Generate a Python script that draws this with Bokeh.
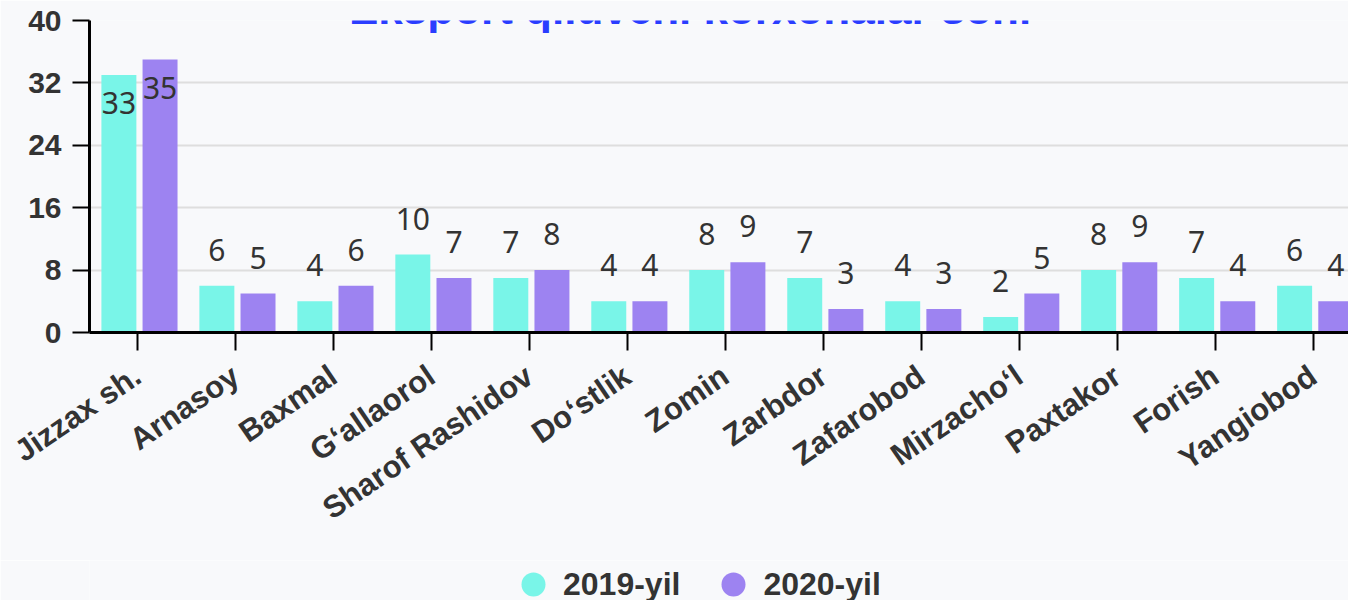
import numpy as np
from bokeh.plotting import figure
from bokeh.layouts import column
from bokeh.models import (ColumnDataSource, Range1d, FixedTicker, Legend, LegendItem, Label)
from bokeh.core.properties import value
from bokeh.transform import dodge
from bokeh.embed import file_html
from bokeh.resources import INLINE

categories = ["Jizzax sh.", "Arnasoy", "Baxmal", "G\u2018allaorol", "Sharof Rashidov",
              "Do\u2018stlik", "Zomin", "Zarbdor", "Zafarobod", "Mirzacho\u2018l",
              "Paxtakor", "Forish", "Yangiobod"]
y2019 = [33, 6, 4, 10, 7, 4, 8, 7, 4, 2, 8, 7, 6]
y2020 = [35, 5, 6, 7, 8, 4, 9, 3, 3, 5, 9, 4, 4]
series_names = ["2019-yil", "2020-yil"]
y_ticks = [0, 8, 16, 24, 32, 40]
title_text = "Eksport qiluvchi korxonalar soni"

C1 = "#79F5E8"
C2 = "#9D83F1"
BG = "#F8F9FB"
TXT = "#333333"

idx = np.arange(len(categories))

p = figure(width=1348, height=560, output_backend="svg", toolbar_location=None,
           x_range=Range1d(-0.49, 12.36), y_range=Range1d(0, 40),
           min_border_left=89, min_border_right=0, min_border_top=20, min_border_bottom=228,
           background_fill_color=BG, border_fill_color=BG, outline_line_color=None)

src = ColumnDataSource(dict(x=idx, a=y2019, b=y2020,
                            la=[str(v) for v in y2019], lb=[str(v) for v in y2020],
                            oa=[28 if v > 30 else -36 for v in y2019],
                            ob=[28 if v > 30 else -36 for v in y2020]))

p.vbar(x=dodge("x", -0.19, range=p.x_range), top="a", width=0.357, source=src,
       fill_color=C1, line_color=None)
p.vbar(x=dodge("x", 0.23, range=p.x_range), top="b", width=0.357, source=src,
       fill_color=C2, line_color=None)

p.text(x=dodge("x", -0.19, range=p.x_range), y="a", text="la", y_offset="oa", source=src,
       text_align="center", text_baseline="middle", text_color=TXT,
       text_font=value("Noto Sans"), text_font_size="30px")
p.text(x=dodge("x", 0.23, range=p.x_range), y="b", text="lb", y_offset="ob", source=src,
       text_align="center", text_baseline="middle", text_color=TXT,
       text_font=value("Noto Sans"), text_font_size="30px")

# grid
p.xgrid.grid_line_color = None
p.ygrid.grid_line_color = "#DEDEDE"
p.ygrid.grid_line_width = 2
p.ygrid.ticker = FixedTicker(ticks=y_ticks)

# y axis
ya = p.yaxis[0]
ya.ticker = FixedTicker(ticks=y_ticks)
ya.axis_line_width = 3
ya.axis_line_color = "black"
ya.major_tick_line_width = 2
ya.major_tick_line_color = "black"
ya.major_tick_out = 17
ya.major_tick_in = 0
ya.minor_tick_line_color = None
ya.major_label_standoff = 11
ya.major_label_text_font = "Liberation Sans"
ya.major_label_text_font_style = "bold"
ya.major_label_text_font_size = "30px"
ya.major_label_text_color = TXT

# x axis
xa = p.xaxis[0]
xa.ticker = FixedTicker(ticks=list(idx))
xa.major_label_overrides = {int(i): c for i, c in zip(idx, categories)}
xa.axis_line_width = 3
xa.axis_line_color = "black"
xa.major_tick_line_width = 2
xa.major_tick_line_color = "black"
xa.major_tick_out = 18
xa.major_tick_in = 0
xa.minor_tick_line_color = None
xa.major_label_orientation = 0.6
xa.major_label_standoff = 22
xa.major_label_text_font = "Liberation Sans"
xa.major_label_text_font_style = "bold"
xa.major_label_text_font_size = "31px"
xa.major_label_text_color = TXT

# title (partly cut at top as in reference)
p.add_layout(Label(x=5.64, y=41.5, text=title_text, text_align="center",
                   text_baseline="alphabetic", text_color="#2A3DFF",
                   text_font="Liberation Sans", text_font_style="bold",
                   text_font_size="44px"))

# legend strip below the chart
lg = figure(width=1348, height=40, output_backend="svg", toolbar_location=None,
            x_axis_location=None, y_axis_location=None,
            x_range=Range1d(0, 1), y_range=Range1d(0, 1),
            min_border=0, background_fill_color=BG, border_fill_color=BG,
            outline_line_color=None)
lg.xgrid.grid_line_color = None
lg.ygrid.grid_line_color = None
r1 = lg.scatter(x=[np.nan], y=[np.nan], marker="circle", fill_color=C1, line_color=None)
r2 = lg.scatter(x=[np.nan], y=[np.nan], marker="circle", fill_color=C2, line_color=None)
legend = Legend(items=[LegendItem(label=series_names[0], renderers=[r1]),
                       LegendItem(label=series_names[1], renderers=[r2])],
                location=(414, -14), orientation="horizontal",
                glyph_width=60, glyph_height=60, label_standoff=-17, spacing=23,
                padding=0, margin=0, border_line_color=None, background_fill_alpha=0,
                label_text_font="Liberation Sans", label_text_font_style="bold",
                label_text_font_size="32px", label_text_color=TXT)
lg.add_layout(legend, "center")

layout = column(p, lg, spacing=0)
open("out.html", "w").write(file_html(layout, INLINE))
